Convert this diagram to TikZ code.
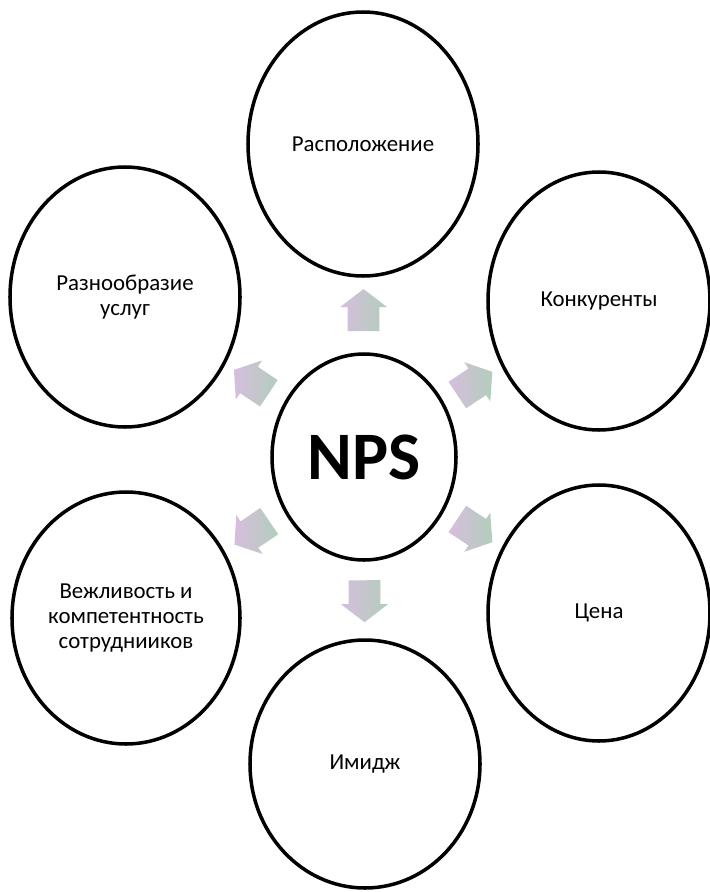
\documentclass[tikz,border=0pt]{standalone}
\usepackage{fontspec}
\setmainfont{Carlito}
\usetikzlibrary{shapes.geometric,shapes.arrows,calc}

\tikzset{
  factor/.style={ellipse, draw, line width=3pt, inner sep=0pt, align=center,
    font=\fontsize{19.5}{21.5}\selectfont},
  pointer/.style={single arrow, inner xsep=0pt, inner ysep=0.47cm,
    single arrow head extend=0.23cm, single arrow tip angle=105,
    minimum height=1.26cm, draw=none,
    left color=pinkish, middle color=bluish, right color=greenish}
}
\definecolor{pinkish}{RGB}{214,190,222}
\definecolor{bluish}{RGB}{188,206,218}
\definecolor{greenish}{RGB}{178,206,186}

\begin{document}
\begin{tikzpicture}[x=0.03cm, y=-0.03cm]
      \def\px{0.03cm}
      \useasboundingbox (0,0) rectangle (710,892);
      %
      \node[factor, minimum width=184*\px, minimum height=206*\px,
        font=\fontsize{58}{60}\selectfont\bfseries] (nps) at (364,457) {NPS};   % centre
      %
      \node[factor, minimum width=230*\px, minimum height=264*\px] (top) at (363,144) {Расположение};
      \node[factor, minimum width=222*\px, minimum height=258*\px] (konk) at (599,301) {Конкуренты};
      \node[factor, minimum width=230*\px, minimum height=260*\px] (left) at (125,297) {Разнообразие\\услуг};
      \node[factor, minimum width=228*\px, minimum height=252*\px] (vezh) at (126,618) {Вежливость и\\компетентность\\сотруднииков};
      \node[factor, minimum width=222*\px, minimum height=256*\px] (cena) at (599,613) {Цена};
      \node[factor, minimum width=230*\px, minimum height=248*\px] (imidzh) at (365,764) {Имидж};
      %
      \foreach \t in {top,konk,left,vezh,cena,imidzh}
        \path let \p1=($(\t)-(nps)$), \n1={atan2(\y1,\x1)} in
          node[pointer, rotate=\n1] (arr-\t) at ($(nps)!0.45!(\t)$) {};   % arrows out of NPS
      %
\end{tikzpicture}
\end{document}
